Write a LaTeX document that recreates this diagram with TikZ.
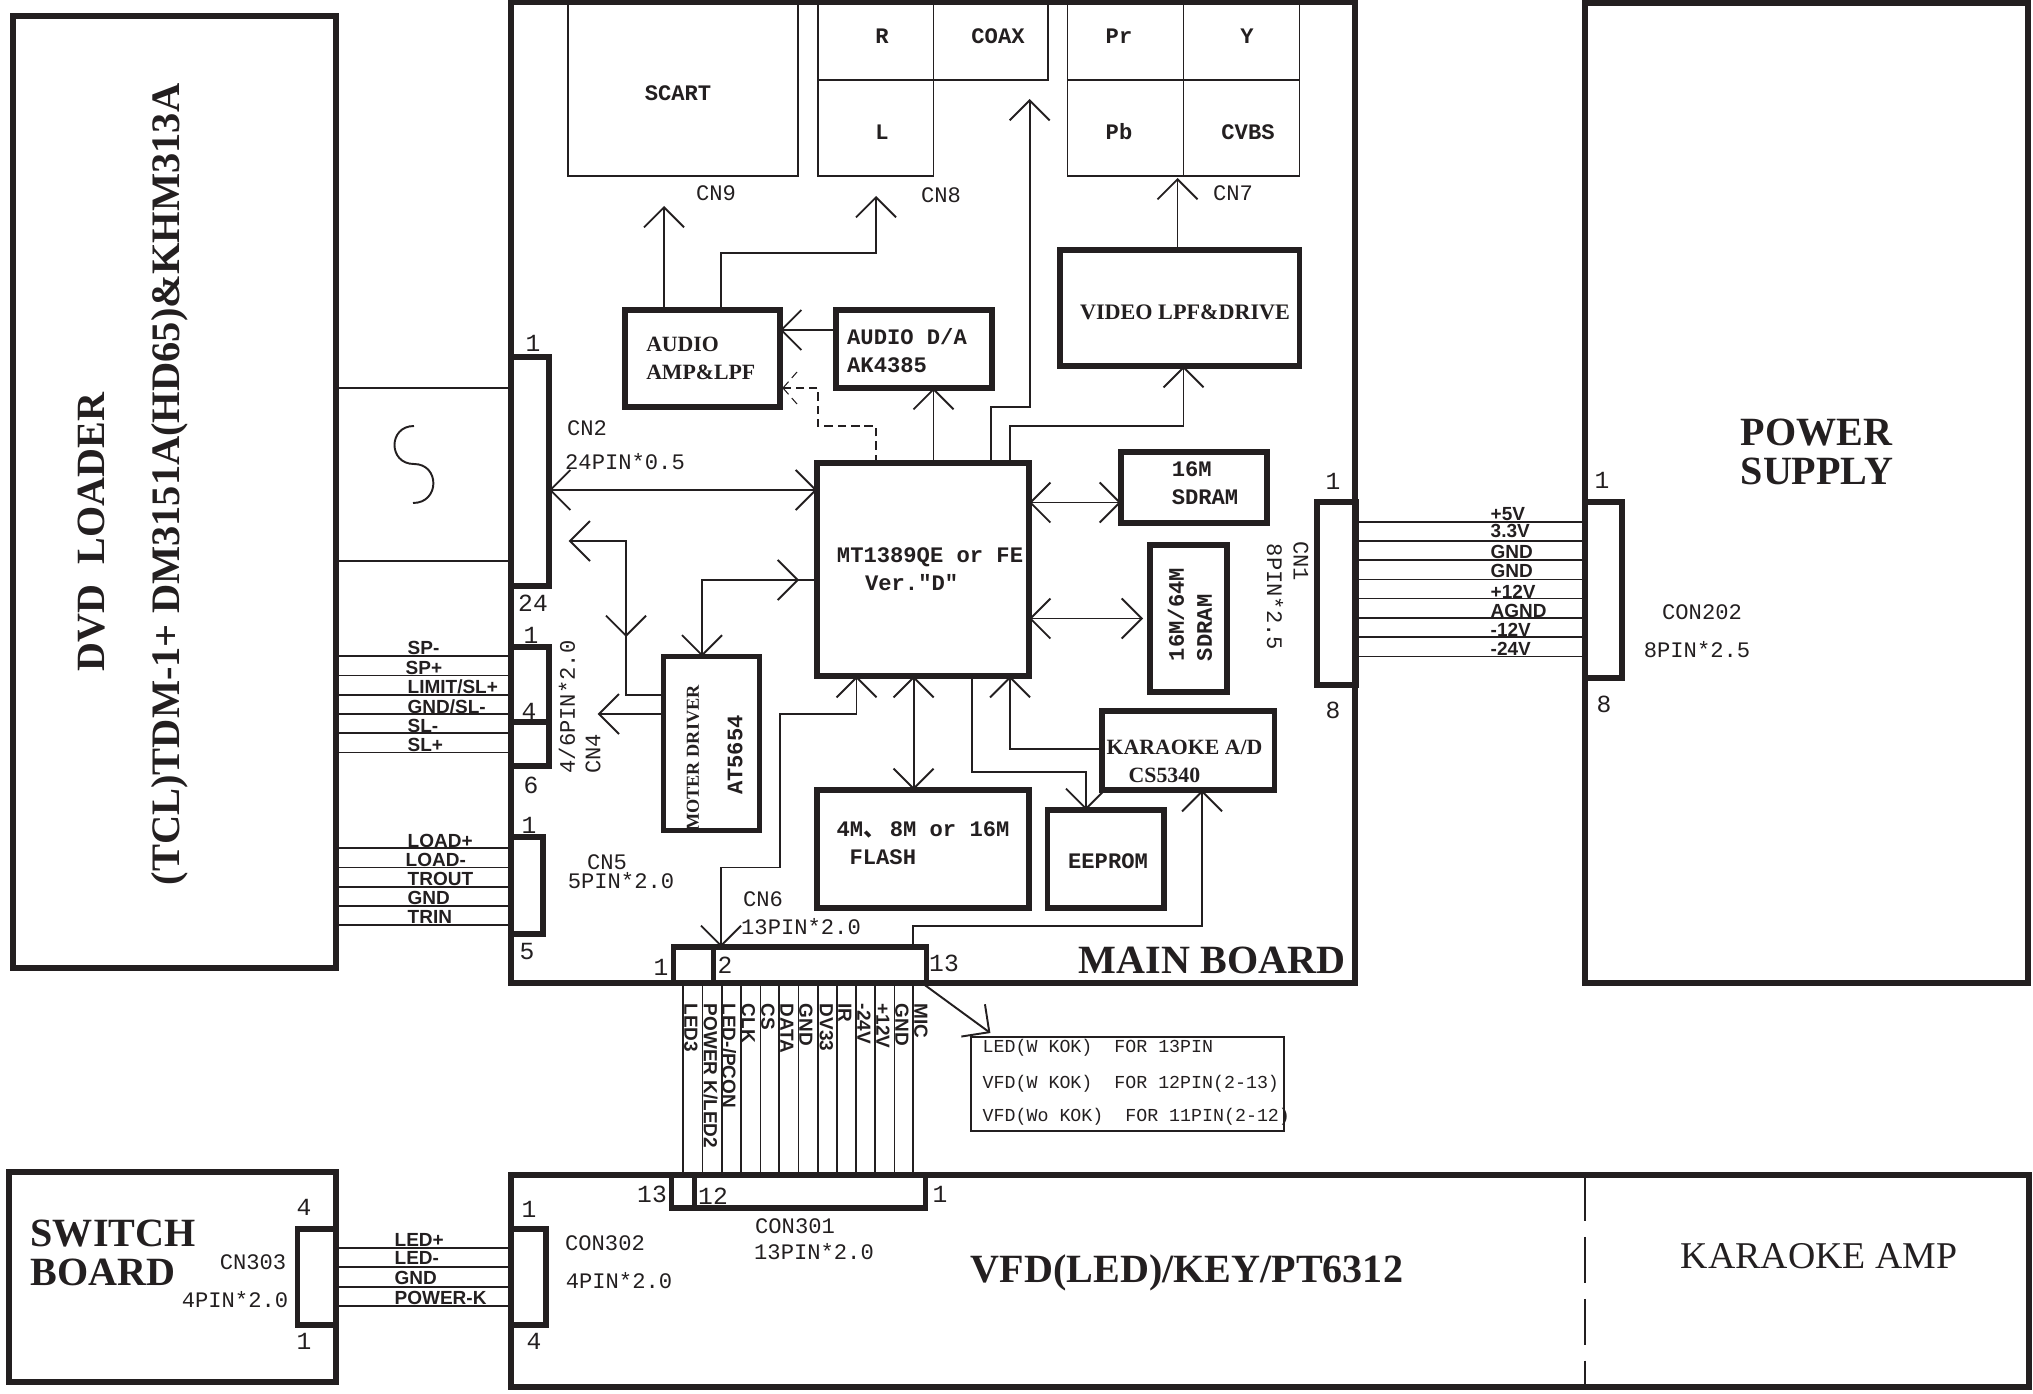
\documentclass[tikz,border=0pt]{standalone}
\usepackage{fontspec}
\setmainfont{Liberation Serif}
\setsansfont{Liberation Sans}
\setmonofont{Liberation Mono}
\newfontfamily\cjk{Noto Sans CJK SC}
\usetikzlibrary{arrows.meta}
\definecolor{ink}{HTML}{231F20}
\tikzset{
barb/.tip={Straight Barb[length=0.2cm,width=0.4cm]},
wh/.style 2 args={minimum width=#1*0.01cm,minimum height=#2*0.01cm},
blk/.style={draw,line width=1.5pt,inner sep=0pt,outer sep=0pt},
thinbox/.style={draw,line width=0.5pt,inner sep=0pt,outer sep=0pt},
wire/.style={line width=0.55pt},
mono/.style={font=\ttfamily\fontsize{6.3}{8}\selectfont,inner sep=0pt},
chip/.style={font=\ttfamily\bfseries\fontsize{6.3}{8}\selectfont,inner sep=0pt},
pinno/.style={font=\ttfamily\fontsize{7}{8}\selectfont,inner sep=0pt},
note/.style={font=\ttfamily\fontsize{5.2}{6}\selectfont,inner sep=0pt,anchor=west},
sig/.style={font=\sffamily\bfseries\fontsize{5.4}{6}\selectfont,inner sep=0pt,anchor=west},
sigv/.style={sig,rotate=-90},
bold/.style={font=\bfseries\fontsize{6.2}{8}\selectfont,inner sep=0pt},
big/.style={font=\bfseries\fontsize{11.4}{11}\selectfont,inner sep=0pt},
}
\begin{document}
\begin{tikzpicture}[x=0.01cm,y=-0.01cm,color=ink]
\useasboundingbox (0,0) rectangle (2033,1394);

% boards
\node[blk,wh={323}{952}] (loader) at (174.5,492) {};
\node[blk,wh={844}{981}] (main) at (933,492.5) {};
\node[blk,wh={443}{980}] (power) at (1806.5,493) {};
\node[blk,wh={327}{210}] (switch) at (172.5,1277) {};
\node[blk,wh={1518}{212}] (vfd) at (1270,1281) {};
\draw[wire,line width=0.4pt,dash pattern=on 13.2pt off 4.4pt] (power.west |- vfd.north) -- (power.west |- vfd.south) ;

\node[big,rotate=90] (tdvd) at (92,532) {DVD\ \ LOADER};
\node[big,font=\bfseries\fontsize{11.5}{11}\selectfont,rotate=90] (tmodel) at (170,484.5) {(TCL)TDM-1+ DM3151A(HD65)\&KHM313A};
\node[big] (tmain) at (1212,960) {MAIN BOARD};
\node[big,align=left,anchor=west] (tpower) at (1740,452) {POWER\\SUPPLY};
\node[big,align=left,anchor=west] (tswitch) at (30,1253) {SWITCH\\BOARD};
\node[big] (tvfd) at (1187,1273) {VFD(LED)/KEY/PT6312};
\node[font=\fontsize{10.75}{11}\selectfont,inner sep=0pt] (tamp) at (1819,1256) {KARAOKE AMP};

%---------------------------------
% output sockets
\node[thinbox,wh={230}{172}] (scart) at (683,90) {};
\node[thinbox,wh={115.5}{76}] (cellr) at (875.75,42) {};
\node[thinbox,wh={114.5}{76}] (cellcoax) at (990.75,42) {};
\node[thinbox,wh={115.5}{96}] (celll) at (875.75,128) {};
\node[thinbox,wh={116}{76}] (cellpr) at (1125.5,42) {};
\node[thinbox,wh={116}{76}] (celly) at (1241.5,42) {};
\node[thinbox,wh={116}{96}] (cellpb) at (1125.5,128) {};
\node[thinbox,wh={116}{96}] (cellcvbs) at (1241.5,128) {};
\node[chip] (tscart) at (678,93) {SCART};
\node[chip] (tr) at (882,36) {R};
\node[chip] (tcoax) at (998,36) {COAX};
\node[chip] (tl) at (882,132) {L};
\node[chip] (tpr) at (1119,36) {Pr};
\node[chip] (ty) at (1247,36) {Y};
\node[chip] (tpb) at (1119,132) {Pb};
\node[chip] (tcvbs) at (1248,132) {CVBS};
\node[mono] (tcn9) at (716,193) {CN9};
\node[mono] (tcn8) at (941,195) {CN8};
\node[mono] (tcn7) at (1233,193) {CN7};

%---------------------------------
% chips
\node[blk,bold,align=left,wh={155}{97}] (audio) at (702.5,358.5) {AUDIO\\AMP\&LPF\hspace*{1pt}};
\node[blk,wh={156}{78}] (audioda) at (914,349) {};
\node[chip,align=left] (taudioda) at (907,351) {AUDIO D/A\\AK4385};
\node[blk,wh={239.5}{116}] (video) at (1179.75,308) {};
\node[bold,font=\bfseries\fontsize{6.3}{8}\selectfont] (tvideo) at (1185,312) {VIDEO LPF\&DRIVE};
\node[blk,chip,align=left,wh={212}{213}] (mt) at (923,569.5) {\hspace*{4pt}MT1389QE or FE\\\hspace*{12pt}Ver."D"};
\node[blk,wh={146}{71}] (sdrama) at (1194,487.5) {};
\node[chip,align=left] (tsdrama) at (1205,483) {16M\\SDRAM};
\node[blk,wh={77}{147}] (sdramb) at (1188.5,618.5) {};
\node[chip,align=left,rotate=90] (tsdramb) at (1190,614.5) {16M/64M\\SDRAM};
\node[blk,wh={96}{174}] (motor) at (711.5,743.5) {};
\node[bold,font=\bfseries\fontsize{5.2}{6}\selectfont,rotate=90] (tmotor) at (693,758) {MOTER DRIVER};
\node[chip,rotate=90] (tat) at (735,755) {AT5654};
\node[blk,wh={212}{118}] (flash) at (923,849) {};
\node[chip,align=left] (tflash) at (923,843) {4M{\cjk 、}\hspace{0.2em}8M or 16M\\\hspace*{3.7pt}FLASH};
\node[blk,wh={116.5}{98}] (eeprom) at (1105.75,859) {};
\node[chip] (teeprom) at (1108,861) {EEPROM};
\node[blk,wh={172.5}{79}] (karaoke) at (1188.25,750.5) {};
\node[bold,anchor=west] (tkaraokea) at (1106,747.5) {KARAOKE A/D};
\node[bold,anchor=west] (tkaraokeb) at (1128,775) {CS5340};

%---------------------------------
% connectors
\node[blk,wh={38}{229}] (cntwo) at (530,471.5) {};
\node[blk,wh={38}{75}] (cnfoura) at (530,684.5) {};
\node[blk,wh={38}{44}] (cnfourb) at (530,744) {};
\node[blk,wh={32}{97}] (cnfive) at (527,885.5) {};
\node[blk,wh={39}{183}] (cnone) at (1336.5,593.5) {};
\node[blk,wh={37}{176}] (contwo) at (1603.5,590) {};
\node[blk,wh={40}{36}] (cnsixa) at (693.5,965) {};
\node[blk,wh={213}{36}] (cnsixb) at (820,965) {};
\node[blk,wh={22.5}{33}] (conona) at (683,1191.5) {};
\node[blk,wh={230.5}{33}] (cononb) at (810,1191.5) {};
\node[blk,wh={35}{96}] (conthree) at (528.5,1277) {};
\node[blk,wh={38}{96}] (cnthree) at (316.5,1277) {};

\node[pinno] (ptwoa) at (533,343) {1};
\node[pinno] (ptwob) at (533,603) {24};
\node[pinno] (pfoura) at (531,635) {1};
\node[pinno] (pfourb) at (529,711) {4};
\node[pinno] (pfourc) at (531,785) {6};
\node[pinno] (pfivea) at (529,825) {1};
\node[pinno] (pfiveb) at (527,952) {5};
\node[pinno] (ponea) at (1333,481) {1};
\node[pinno] (poneb) at (1333,710) {8};
\node[pinno] (pcona) at (1602,480) {1};
\node[pinno] (pconb) at (1604,704) {8};
\node[pinno] (psixa) at (661,967) {1};
\node[pinno] (psixb) at (725,965) {2};
\node[pinno] (psixc) at (944,963) {13};
\node[pinno] (pvfda) at (652,1194) {13};
\node[pinno] (pvfdb) at (713,1196) {12};
\node[pinno] (pvfdc) at (940,1194) {1};
\node[pinno] (pthreea) at (529,1209) {1};
\node[pinno] (pthreeb) at (534,1341) {4};
\node[pinno] (pswa) at (304,1207) {4};
\node[pinno] (pswb) at (304,1341) {1};

\node[mono] (tcntwo) at (587,428) {CN2};
\node[mono] (tcntwopin) at (625,462) {24PIN*0.5};
\node[mono,rotate=90] (tcnfourpin) at (567,707) {4/6PIN*2.0};
\node[mono,rotate=90] (tcnfour) at (593,754) {CN4};
\node[mono] (tcnfive) at (607,862) {CN5};
\node[mono] (tcnfivepin) at (621,881) {5PIN*2.0};
\node[mono,rotate=-90] (tcnone) at (1301,561) {CN1};
\node[mono,rotate=-90] (tcnonepin) at (1275,597) {8PIN*2.5};
\node[mono] (tcontwo) at (1702,612) {CON202};
\node[mono] (tcontwopin) at (1697,650) {8PIN*2.5};
\node[mono] (tcnsix) at (763,899) {CN6};
\node[mono] (tcnsixpin) at (801,927) {13PIN*2.0};
\node[mono] (tconone) at (795,1226) {CON301};
\node[mono] (tcononepin) at (814,1252) {13PIN*2.0};
\node[mono] (tconthree) at (605,1243) {CON302};
\node[mono] (tconthreepin) at (619,1281) {4PIN*2.0};
\node[mono] (tcnthree) at (253,1262) {CN303};
\node[mono] (tcnthreepin) at (235,1300) {4PIN*2.0};

%---------------------------------
% loader cable
\draw[wire] (loader.east |- 0,388) -- (cntwo.west |- 0,388) ;
\draw[wire] (loader.east |- 0,561) -- (cntwo.west |- 0,561) ;
\draw[wire] (414,426) .. controls (388,426) and (388,464) .. (414,464) .. controls (440,464) and (440,503) .. (413,503) ;

\draw[wire] (loader.east |- 0,656) -- (cnfoura.west |- 0,656) ;
\draw[wire] (loader.east |- 0,675.5) -- (cnfoura.west |- 0,675.5) ;
\draw[wire] (loader.east |- 0,695) -- (cnfoura.west |- 0,695) ;
\draw[wire] (loader.east |- 0,714) -- (cnfoura.west |- 0,714) ;
\draw[wire] (loader.east |- 0,733) -- (cnfourb.west |- 0,733) ;
\draw[wire] (loader.east |- 0,752.5) -- (cnfourb.west |- 0,752.5) ;
\node[sig] (spm) at (407,648) {SP-};
\node[sig] (spp) at (405,668) {SP+};
\node[sig] (limit) at (407,687) {LIMIT/SL+};
\node[sig] (gndsl) at (407,706.5) {GND/SL-};
\node[sig] (slm) at (407,725.5) {SL-};
\node[sig] (slp) at (407,745) {SL+};

\draw[wire] (loader.east |- 0,848) -- (cnfive.west |- 0,848) ;
\draw[wire] (loader.east |- 0,867.5) -- (cnfive.west |- 0,867.5) ;
\draw[wire] (loader.east |- 0,887) -- (cnfive.west |- 0,887) ;
\draw[wire] (loader.east |- 0,906) -- (cnfive.west |- 0,906) ;
\draw[wire] (loader.east |- 0,925) -- (cnfive.west |- 0,925) ;
\node[sig] (loadp) at (407,841) {LOAD+};
\node[sig] (loadm) at (405,860) {LOAD-};
\node[sig] (trout) at (407,879) {TROUT};
\node[sig] (gndl) at (407,898) {GND};
\node[sig] (trin) at (407,917) {TRIN};

%---------------------------------
% power cable
\draw[wire] (cnone.east |- 0,522) -- (contwo.west |- 0,522) ;
\draw[wire] (cnone.east |- 0,541) -- (contwo.west |- 0,541) ;
\draw[wire] (cnone.east |- 0,560) -- (contwo.west |- 0,560) ;
\draw[wire] (cnone.east |- 0,579.5) -- (contwo.west |- 0,579.5) ;
\draw[wire] (cnone.east |- 0,598.5) -- (contwo.west |- 0,598.5) ;
\draw[wire] (cnone.east |- 0,618) -- (contwo.west |- 0,618) ;
\draw[wire] (cnone.east |- 0,637) -- (contwo.west |- 0,637) ;
\draw[wire] (cnone.east |- 0,656.5) -- (contwo.west |- 0,656.5) ;
\node[sig] (vfive) at (1490,514) {+5V};
\node[sig] (vthree) at (1490,531) {3.3V};
\node[sig] (gnda) at (1490,552) {GND};
\node[sig] (gndb) at (1490,571) {GND};
\node[sig] (vtwelve) at (1490,592) {+12V};
\node[sig] (agnd) at (1490,611) {AGND};
\node[sig] (mtwelve) at (1490,630) {-12V};
\node[sig] (mfour) at (1490,649) {-24V};

%---------------------------------
% switch cable
\draw[wire] (cnthree.east |- 0,1248) -- (conthree.west |- 0,1248) ;
\draw[wire] (cnthree.east |- 0,1267) -- (conthree.west |- 0,1267) ;
\draw[wire] (cnthree.east |- 0,1287) -- (conthree.west |- 0,1287) ;
\draw[wire] (cnthree.east |- 0,1306) -- (conthree.west |- 0,1306) ;
\node[sig] (ledp) at (394,1240) {LED+};
\node[sig] (ledm) at (394,1258) {LED-};
\node[sig] (gnds) at (394,1278) {GND};
\node[sig] (powerk) at (394,1298) {POWER-K};

%---------------------------------
% front panel cable
\draw[wire] (683.3,0 |- cnsixa.south) -- (683.3,0 |- conona.north) ;
\draw[wire] (702.5,0 |- cnsixa.south) -- (702.5,0 |- cononb.north) ;
\draw[wire] (721.7,0 |- cnsixb.south) -- (721.7,0 |- cononb.north) ;
\draw[wire] (741,0 |- cnsixb.south) -- (741,0 |- cononb.north) ;
\draw[wire] (760.5,0 |- cnsixb.south) -- (760.5,0 |- cononb.north) ;
\draw[wire] (779.3,0 |- cnsixb.south) -- (779.3,0 |- cononb.north) ;
\draw[wire] (798.5,0 |- cnsixb.south) -- (798.5,0 |- cononb.north) ;
\draw[wire] (817.7,0 |- cnsixb.south) -- (817.7,0 |- cononb.north) ;
\draw[wire] (837.3,0 |- cnsixb.south) -- (837.3,0 |- cononb.north) ;
\draw[wire] (856,0 |- cnsixb.south) -- (856,0 |- cononb.north) ;
\draw[wire] (875.3,0 |- cnsixb.south) -- (875.3,0 |- cononb.north) ;
\draw[wire] (894.5,0 |- cnsixb.south) -- (894.5,0 |- cononb.north) ;
\draw[wire] (913.2,0 |- cnsixb.south) -- (913.2,0 |- cononb.north) ;
\node[sigv] (ledthree) at (691,1003) {LED3};
\node[sigv] (powerled) at (710.5,1003) {POWER K/LED2};
\node[sigv] (pcon) at (729,1003) {LED-/PCON};
\node[sigv] (clk) at (748.5,1003) {CLK};
\node[sigv] (cs) at (768,1003) {CS};
\node[sigv] (data) at (787,1003) {DATA};
\node[sigv] (gndf) at (806,1003) {GND};
\node[sigv] (dv) at (826.5,1003) {DV33};
\node[sigv] (ir) at (845,1003) {IR};
\node[sigv] (mfourf) at (864,1003) {-24V};
\node[sigv] (ptwelve) at (883,1003) {+12V};
\node[sigv] (gndg) at (902,1003) {GND};
\node[sigv] (mic) at (921,1003) {MIC};

% note
\coordinate (noteend) at (990.4,1033);
\draw[wire,-barb] (922,0 |- cnsixb.south) -- (noteend) ;
\node[thinbox,wh={313}{94}] (notebox) at (1127.5,1084) {};
\node[note] (notea) at (982,1048) {LED(W KOK)\ \ FOR 13PIN};
\node[note] (noteb) at (982,1084) {VFD(W KOK)\ \ FOR 12PIN(2-13)};
\node[note] (notec) at (982,1117) {VFD(Wo KOK)\ \ FOR 11PIN(2-12)};

%---------------------------------
% signal arrows
\coordinate (cnnineend) at (664,206);
\coordinate (cneightend) at (876,196);
\coordinate (coaxend) at (1029.7,99);
\coordinate (cnsevenend) at (1177.5,178);
\coordinate (cntwoend) at (568.6,541);
\coordinate (cnfourend) at (597.6,714);
\coordinate (dashtip) at (783,388);

\draw[wire,-barb] (664,0 |- audio.north) -- (cnnineend) ;
\draw[wire,-barb] (721.4,0 |- audio.north) -- (721.4,253) -- (876,253) -- (cneightend) ;
\draw[wire,-barb] (audioda.west |- 0,330) -- (audio.east |- 0,330) ;
\draw[line width=0.3pt,dash pattern=on 2.4pt off 1.4pt] (876,0 |- mt.north) -- (876,426) -- (818,426) -- (818,388) -- (dashtip) ;
\draw[line width=0.3pt,dash pattern=on 2.4pt off 1.4pt] (dashtip) -- ++(14,-16) ;
\draw[line width=0.3pt,dash pattern=on 2.4pt off 1.4pt] (dashtip) -- ++(14,16) ;
\draw[wire,-barb] (933.5,0 |- mt.north) -- (933.5,0 |- audioda.south) ;
\draw[wire,-barb] (990.7,0 |- mt.north) -- (990.7,407) -- (1029.7,407) -- (coaxend) ;
\draw[wire,-barb] (1010,0 |- mt.north) -- (1010,426) -- (1183.5,426) -- (1183.5,0 |- video.south) ;
\draw[wire,-barb] (1177.5,0 |- video.north) -- (cnsevenend) ;

\draw[wire,barb-barb] (cntwo.east |- 0,490) -- (mt.west |- 0,490) ;
\draw[wire,barb-barb] (mt.east |- 0,502.5) -- (sdrama.west |- 0,502.5) ;
\draw[wire,barb-barb] (mt.east |- 0,618.5) -- (1143,618.5) ;

\draw[wire,-barb] (motor.west |- 0,695) -- (626,695) -- (626,541) -- (cntwoend) ;
\draw[wire,-barb] (626,541) -- (626,637) ;
\draw[wire,-barb] (motor.west |- 0,714) -- (cnfourend) ;
\draw[wire,-barb] (mt.west |- 0,580) -- (702,580) -- (702,0 |- motor.north) ;
\draw[wire,-barb] (702,580) -- (799,580) ;

\draw[wire,barb-barb] (721,0 |- cnsixb.north) -- (721,867.5) -- (780,867.5) -- (780,714) -- (856.5,714) -- (856.5,0 |- mt.south) ;
\draw[wire,barb-barb] (913.6,0 |- mt.south) -- (913.6,0 |- flash.north) ;
\draw[wire,-barb] (971.7,0 |- mt.south) -- (971.7,771.8) -- (1086,771.8) -- (1086,0 |- eeprom.north) ;
\draw[wire,-barb] (karaoke.west |- 0,749) -- (1010,749) -- (1010,0 |- mt.south) ;
\draw[wire,-barb] (913,0 |- cnsixb.north) -- (913,926) -- (1202,926) -- (1202,0 |- karaoke.south) ;
\end{tikzpicture}
\end{document}
